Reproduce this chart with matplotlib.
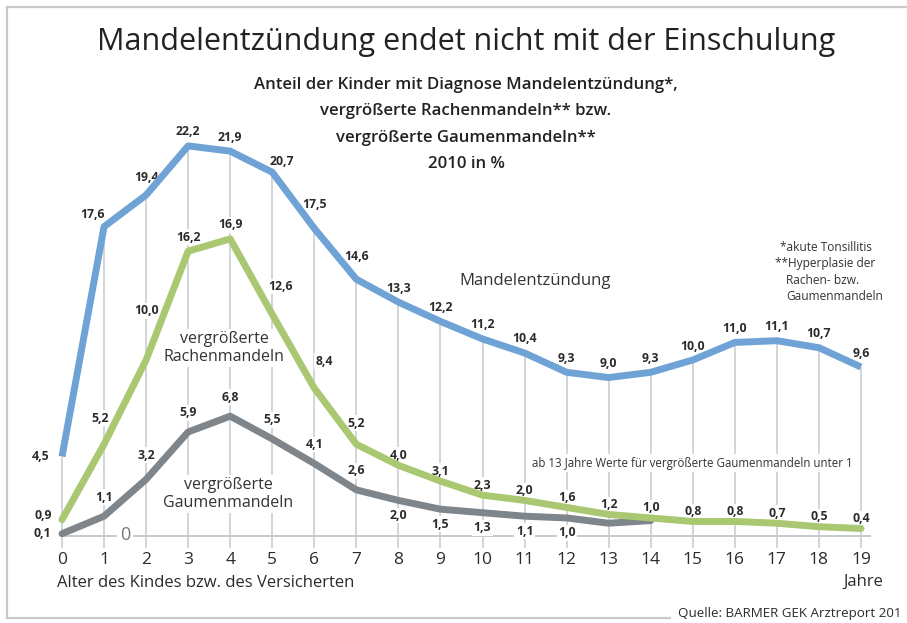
import matplotlib
matplotlib.use("Agg")
import matplotlib.pyplot as plt
from matplotlib.lines import Line2D

plt.rcParams['font.family'] = ['Open Sans', 'DejaVu Sans']

# ---------------- data ----------------
ages = list(range(20))
mandelentzuendung = [4.5, 17.6, 19.4, 22.2, 21.9, 20.7, 17.5, 14.6, 13.3, 12.2,
                     11.2, 10.4, 9.3, 9.0, 9.3, 10.0, 11.0, 11.1, 10.7, 9.6]
rachenmandeln = [0.9, 5.2, 10.0, 16.2, 16.9, 12.6, 8.4, 5.2, 4.0, 3.1,
                 2.3, 2.0, 1.6, 1.2, 1.0, 0.8, 0.8, 0.7, 0.5, 0.4]
gaumenmandeln = [0.1, 1.1, 3.2, 5.9, 6.8, 5.5, 4.1, 2.6, 2.0, 1.5,
                 1.3, 1.1, 1.0, 0.7, 0.85]
gaumen_labelled = 13   # labels only for ages 0..12
tick_labels = [str(a) for a in ages]

# ---------------- layout ----------------
W, H = 907, 623
fig = plt.figure(figsize=(W / 100, H / 100), dpi=100)
ax = fig.add_axes([0, 0, 1, 1])
X0, XS = 62.0, 42.05     # pixel of age 0, pixels per year
Y0, YS = 535.5, 17.55    # pixel row of value 0, pixels per percent
ax.set_xlim(-X0 / XS, (W - X0) / XS)
ax.set_ylim((Y0 - H) / YS, Y0 / YS)
ax.axis('off')

def P(px, py):
    return (px / W, 1 - py / H)

FT = fig.transFigure

BLUE = '#6fa3d6'
GREEN = '#a9c871'
GREY = '#7e858b'
GRID = '#c6cace'
TXT = '#2b2b2b'

# border (partial frame)
fig.add_artist(Line2D([7 / W, 1], [1 - 7 / H] * 2, color='#c9c9c9', lw=1.6, transform=FT))
fig.add_artist(Line2D([7 / W] * 2, [1 - 7 / H, 1 - 618 / H], color='#c9c9c9', lw=1.6, transform=FT))
fig.add_artist(Line2D([7 / W, 670 / W], [1 - 618 / H] * 2, color='#c9c9c9', lw=1.6, transform=FT))

# vertical grid lines from below axis up to the blue curve
ax.vlines(ages, -0.72, mandelentzuendung, color=GRID, lw=1.1, zorder=1)
# baseline
ax.hlines(0, 0, 19.25, color=GRID, lw=1.4, zorder=1)
ax.text(1.5, 0, '0', ha='center', va='center', fontsize=13, color='#777777',
        bbox=dict(facecolor='white', edgecolor='none', pad=2), zorder=2)

# lines
ax.plot(ages[:len(gaumenmandeln)], gaumenmandeln, color=GREY, lw=5, solid_joinstyle='round',
        solid_capstyle='round', zorder=3)
ax.plot(ages, rachenmandeln, color=GREEN, lw=5, solid_joinstyle='round',
        solid_capstyle='round', zorder=4)
ax.plot(ages, mandelentzuendung, color=BLUE, lw=5, solid_joinstyle='round',
        solid_capstyle='butt', zorder=5)

def fmt(v):
    return f"{v:.1f}".replace('.', ',')

lbl_style = dict(ha='center', va='center', fontsize=8.8, fontweight='bold', color=TXT,
                 textcoords='offset pixels', zorder=2,
                 bbox=dict(facecolor='white', edgecolor='none', pad=1.0))

blue_off = {0: (-21, 0), 1: (-12, 12), 2: (0, 18), 5: (10, 11), 6: (0, 24), 7: (0, 23)}
for a, v in zip(ages, mandelentzuendung):
    ax.annotate(fmt(v), (a, v), xytext=blue_off.get(a, (0, 14)), **lbl_style)

green_off = {0: (-19, 4), 1: (-4, 26), 2: (0, 49), 5: (8, 28), 6: (10, 27), 7: (0, 21),
             3: (0, 14), 4: (0, 14)}
for a, v in zip(ages, rachenmandeln):
    ax.annotate(fmt(v), (a, v), xytext=green_off.get(a, (0, 10)), **lbl_style)

grey_off = {0: (-20, 0), 2: (0, 24)}
for a, v in zip(ages[:gaumen_labelled], gaumenmandeln[:gaumen_labelled]):
    default = (0, 19) if a < 8 else (0, -15)
    ax.annotate(fmt(v), (a, v), xytext=grey_off.get(a, default), **lbl_style)

# x tick labels
for a, t in zip(ages, tick_labels):
    ax.annotate(t, (a, 0), xytext=(0, -24), textcoords='offset pixels', ha='center',
                va='center', fontsize=12.5, color=TXT)

# series names (inside the axes so the white boxes sit below the curves)
box = dict(facecolor='white', edgecolor='none', pad=1.5)
ax.text(*P(535, 281), 'Mandelentzündung', transform=FT, ha='center', va='center',
        fontsize=12, color='#333333', zorder=2)
ax.text(*P(224, 348), 'vergrößerte\nRachenmandeln', transform=FT, ha='center', va='center',
        fontsize=11.5, color='#333333', linespacing=1.15, bbox=box, zorder=2)
ax.text(*P(228, 494), 'vergrößerte\nGaumenmandeln', transform=FT, ha='center', va='center',
        fontsize=11.5, color='#333333', linespacing=1.15, bbox=box, zorder=2)
ax.text(*P(692, 463), 'ab 13 Jahre Werte für vergrößerte Gaumenmandeln unter 1', transform=FT,
        ha='center', va='center', fontsize=8.3, color='#333333', bbox=box, zorder=2)

# footnotes
fn = dict(ha='left', va='center', fontsize=8.6, color='#333333')
fig.text(*P(780, 247), '*akute Tonsillitis', **fn)
fig.text(*P(775, 264), '**Hyperplasie der', **fn)
fig.text(*P(786, 281), 'Rachen- bzw.', **fn)
fig.text(*P(786, 297), 'Gaumenmandeln', **fn)

# titles
fig.text(*P(466, 42), 'Mandelentzündung endet nicht mit der Einschulung', ha='center',
         va='center', fontsize=22, color='#222222')
subs = ['Anteil der Kinder mit Diagnose Mandelentzündung*,',
        'vergrößerte Rachenmandeln** bzw.',
        'vergrößerte Gaumenmandeln**',
        '2010 in %']
for i, s in enumerate(subs):
    fig.text(*P(466, 85 + 26.3 * i), s, ha='center', va='center', fontsize=12.1,
             fontweight='semibold', color='#222222')

# axis captions
fig.text(*P(57, 583), 'Alter des Kindes bzw. des Versicherten', ha='left', va='center',
         fontsize=12, color=TXT)
fig.text(*P(863, 582), 'Jahre', ha='center', va='center', fontsize=12, color=TXT)
fig.text(*P(678, 613), 'Quelle: BARMER GEK Arztreport 201', ha='left', va='center',
         fontsize=9.6, color=TXT)

fig.savefig('out.png', dpi=100)
